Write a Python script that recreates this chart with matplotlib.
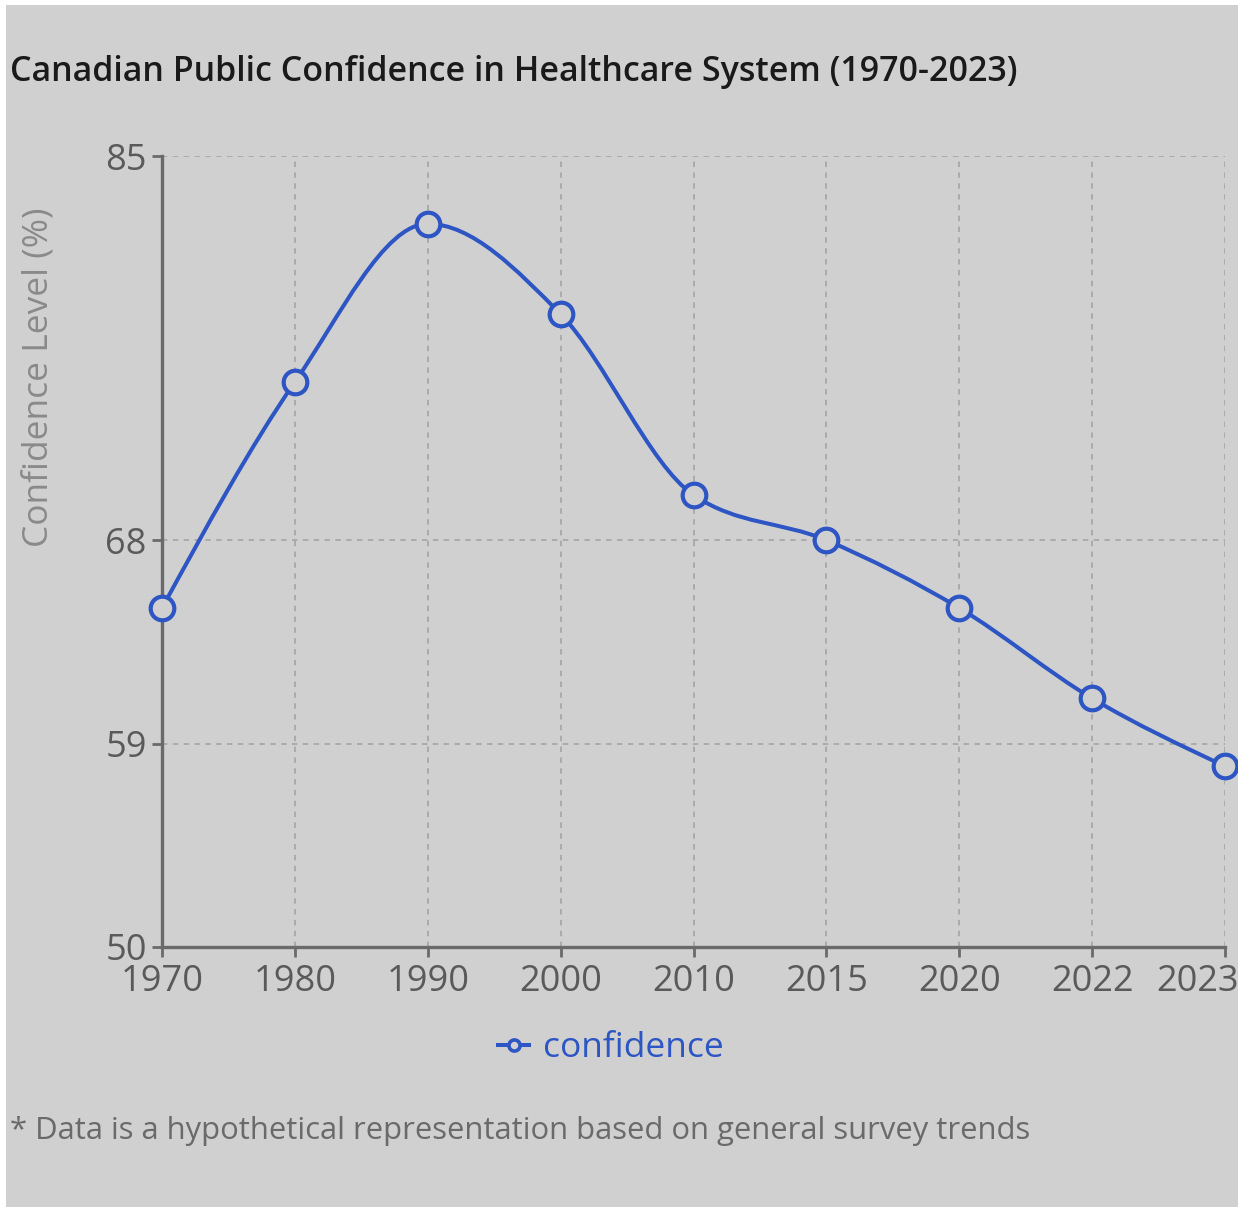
import numpy as np
import matplotlib.pyplot as plt
from matplotlib.path import Path
from matplotlib.patches import PathPatch, Rectangle
from matplotlib.lines import Line2D
from matplotlib.transforms import ScaledTranslation

years = ["1970", "1980", "1990", "2000", "2010", "2015", "2020", "2022", "2023"]
confidence = [65, 75, 82, 78, 70, 68, 65, 61, 58]
y_ticks = [50, 59, 68, 85]

BG = "#d0d0d0"
BLUE = "#2d55c3"
TEXT = "#5a5a5a"

plt.rcParams["font.family"] = ["Open Sans", "DejaVu Sans"]


def monotone_path(xs, ys):
    # monotone cubic (like d3 curveMonotoneX) built as bezier segments
    xs = np.asarray(xs, float)
    ys = np.asarray(ys, float)
    n = len(xs)
    h = np.diff(xs)
    s = np.diff(ys) / h
    t = np.zeros(n)
    for i in range(1, n - 1):
        p = (s[i - 1] * h[i] + s[i] * h[i - 1]) / (h[i - 1] + h[i])
        t[i] = (np.sign(s[i - 1]) + np.sign(s[i])) * min(abs(s[i - 1]), abs(s[i]), 0.5 * abs(p))
    t[0] = (3 * s[0] - t[1]) / 2
    t[-1] = (3 * s[-1] - t[-2]) / 2
    verts = [(xs[0], ys[0])]
    codes = [Path.MOVETO]
    for i in range(n - 1):
        dx = h[i] / 3
        verts += [(xs[i] + dx, ys[i] + dx * t[i]),
                  (xs[i + 1] - dx, ys[i + 1] - dx * t[i + 1]),
                  (xs[i + 1], ys[i + 1])]
        codes += [Path.CURVE4] * 3
    return Path(verts, codes)


fig = plt.figure(figsize=(12.38, 12.07), dpi=100, facecolor="white")
# grey panel with a thin white margin on the top and left
fig.patches.append(Rectangle((6 / 1238, 0), 1, 1 - 5 / 1207, transform=fig.transFigure,
                             facecolor=BG, edgecolor="none", zorder=-1))

ax = fig.add_axes([162 / 1238, 260 / 1207, (1225 - 162) / 1238, (947 - 156) / 1207])
ax.set_facecolor(BG)
ax.patch.set_alpha(0)

x = np.arange(len(years))
ax.set_xlim(0, len(years) - 1)
ax.set_ylim(50, 85)
ax.set_xticks(x)
ax.set_xticklabels(years)
ax.set_yticks(y_ticks)

ax.grid(True, color="#a8a8a8", linestyle=(0, (3, 3)), linewidth=1.3)
ax.set_axisbelow(True)

for side in ["top", "right"]:
    ax.spines[side].set_visible(False)
for side in ["left", "bottom"]:
    ax.spines[side].set_color("#6a6a6a")
    ax.spines[side].set_linewidth(2.4)

ax.tick_params(axis="both", colors="#6a6a6a", labelcolor=TEXT, labelsize=26,
               length=7, width=2.0)
ax.tick_params(axis="x", pad=5)
ax.tick_params(axis="y", pad=4)

# last year label is pulled inward so it stays inside the panel
last = ax.get_xticklabels()[-1]
last.set_transform(last.get_transform() + ScaledTranslation(-28 / 100, 0, fig.dpi_scale_trans))

ax.set_ylabel("Confidence Level (%)", fontsize=25.5, color="#8a8a8a")
ax.yaxis.set_label_coords(-0.100, 0.72)

curve = PathPatch(monotone_path(x, confidence), facecolor="none", edgecolor=BLUE,
                  linewidth=2.9, zorder=3, capstyle="round", joinstyle="round")
ax.add_patch(curve)
ax.plot(x, confidence, linestyle="none", marker="o", markersize=17,
        markerfacecolor=BG, markeredgecolor=BLUE, markeredgewidth=3.0,
        zorder=4, clip_on=False)

handle = Line2D([], [], color=BLUE, linewidth=2.9, marker="o", markersize=8,
                markerfacecolor=BG, markeredgecolor=BLUE, markeredgewidth=2.6)
fig.legend([handle], ["confidence"], loc="center", bbox_to_anchor=(611 / 1238, 1 - 1048 / 1207),
           frameon=False, fontsize=25.5, labelcolor=BLUE, handlelength=0.85,
           handletextpad=0.4)

fig.text(10 / 1238, 1 - 72 / 1207, "Canadian Public Confidence in Healthcare System (1970-2023)",
         fontsize=24.5, fontweight="semibold", color="#1a1a1a", va="center", ha="left")
fig.text(10 / 1238, 1 - 1131 / 1207,
         "* Data is a hypothetical representation based on general survey trends",
         fontsize=22.3, color="#6a6a6a", va="center", ha="left")

fig.savefig("out.png", dpi=100, facecolor="white")
